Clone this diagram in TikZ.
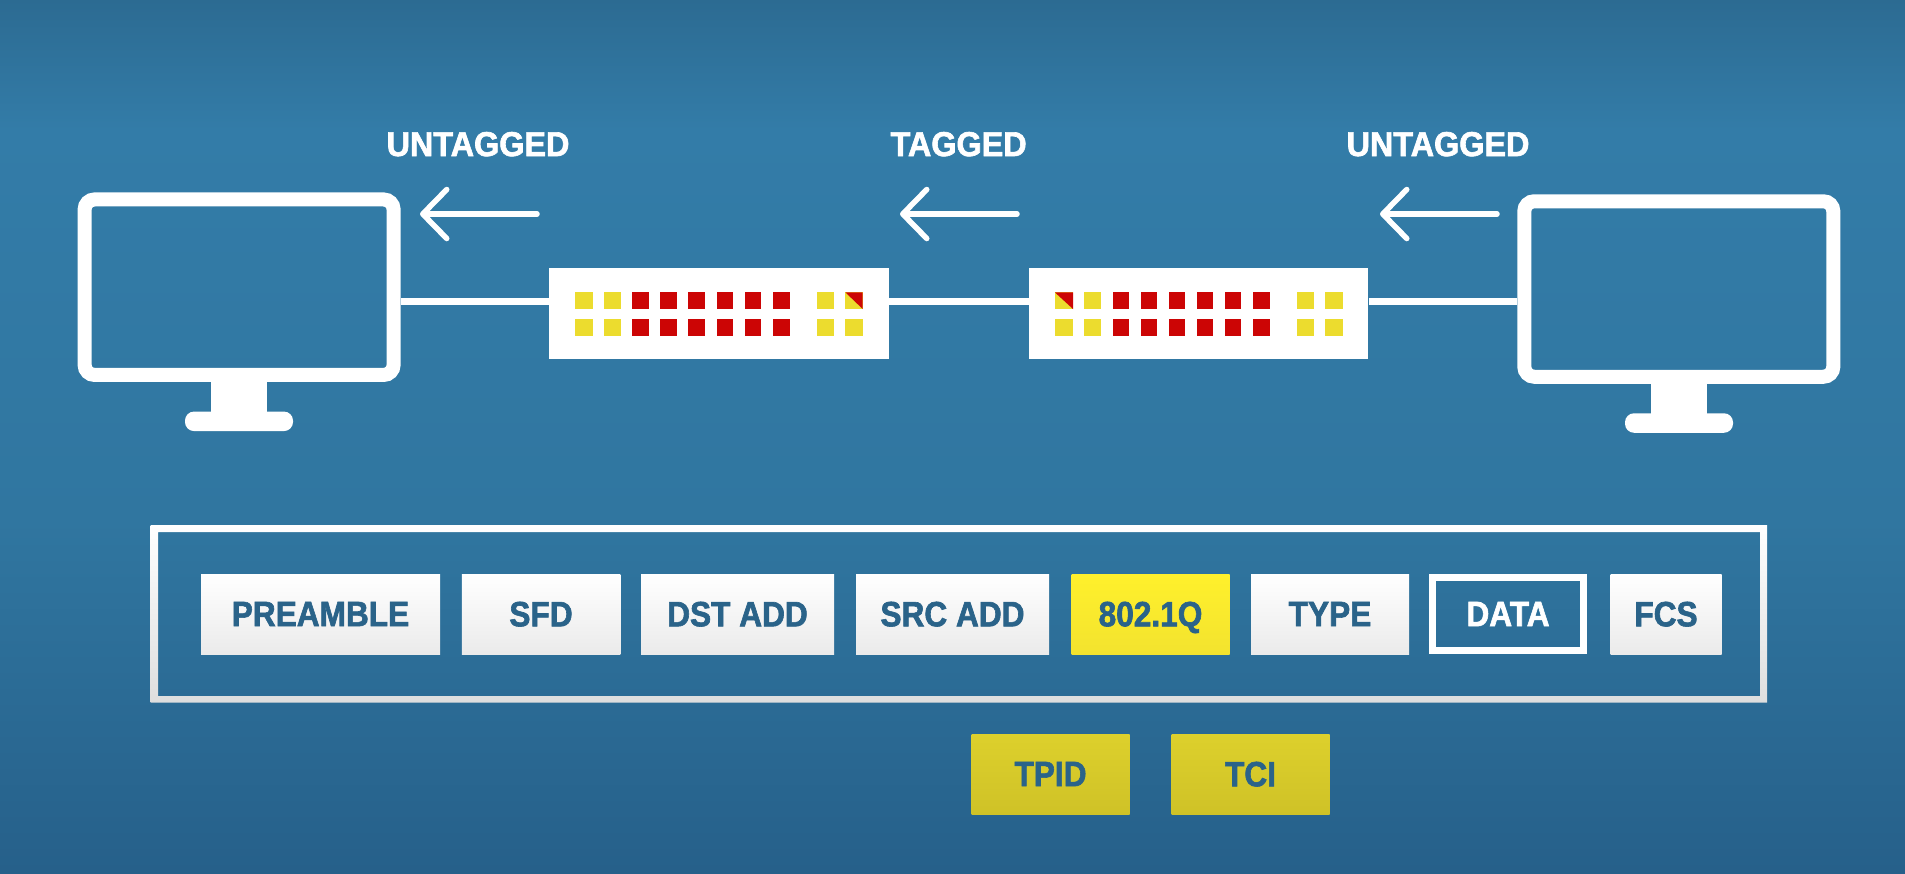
\documentclass[tikz,border=0pt]{standalone}
\usepackage{fontspec}
\setmainfont{Liberation Sans}[FakeStretch=0.94,BoldFeatures={FakeBold=1.8}]
\newfontfamily\fieldfont{Liberation Sans}[FakeStretch=0.9,BoldFeatures={FakeBold=1.8}]
\usepackage{tikz}
\usetikzlibrary{calc,arrows.meta,positioning}
\definecolor{bgTop}{HTML}{2C6B92}
\definecolor{bgMid}{HTML}{337CA8}
\definecolor{bgLow}{HTML}{3076A0}
\definecolor{bgBot}{HTML}{26608A}
\definecolor{inkBlue}{HTML}{2A6389}
\definecolor{portYellow}{HTML}{ECDC2E}
\definecolor{portRed}{HTML}{CC0505}
\definecolor{hotTop}{HTML}{FFF02C}
\definecolor{hotBot}{HTML}{F3E32E}
\definecolor{subTop}{HTML}{DDD02C}
\definecolor{subBot}{HTML}{CFC227}
\def\px{0.02cm}
\tikzset{
	screen/.style={draw=white,line width=14*\px,rounded corners=10*\px,inner sep=0pt,minimum width=309*\px,minimum height=175.5*\px},
	stand/.style={fill=white,inner sep=0pt,minimum width=56*\px,minimum height=32*\px},
	foot/.style={fill=white,inner sep=0pt,rounded corners=9*\px,minimum width=108*\px,minimum height=19.5*\px},
	switchbox/.style={fill=white,inner sep=0pt,minimum width=339.5*\px,minimum height=91*\px},
	wire/.style={draw=white,line width=6.5*\px},
	flow/.style={draw=white,line width=5.5*\px,line cap=round,-{Straight Barb[round,length=24*\px,width=49*\px]}},
	heading/.style={text=white,font=\bfseries\fontsize{19.6}{19.6}\selectfont,inner sep=0pt,text depth=0pt},
	field/.style={top color=white,bottom color=black!8,text=inkBlue,font=\fieldfont\bfseries\fontsize{20}{20}\selectfont,inner sep=0pt,text depth=0pt,minimum height=80*\px},
	hotfield/.style={field,top color=hotTop,bottom color=hotBot},
	subfield/.style={field,top color=subTop,bottom color=subBot},
	holefield/.style={text=white,draw=white,line width=7*\px,font=\fieldfont\bfseries\fontsize{20}{20}\selectfont,inner sep=0pt,text depth=0pt,minimum height=73*\px},
	port/.style={fill=#1}
}
\begin{document}
\begin{tikzpicture}[x=0.02cm,y=-0.02cm]
	\useasboundingbox (0,0) rectangle (1905,873);
	\shade[top color=bgTop,bottom color=bgMid] (0,0) rectangle (1905,130);
	\shade[top color=bgMid,bottom color=bgLow] (0,130) rectangle (1905,520);
	\shade[top color=bgLow,bottom color=bgBot] (0,520) rectangle (1905,873);

	\node[screen] (monL) at (239.1,287.2) {};
	\node[stand] (stemL) at (239,396.5) {};
	\node[foot] (footL) at (239,421.3) {};
	\node[screen] (monR) at (1678.8,289) {};
	\node[stand] (stemR) at (1679,398) {};
	\node[foot] (footR) at (1679,423) {};

	\node[switchbox] (swL) at (719,313.7) {};
	\node[switchbox] (swR) at (1198.7,313.7) {};

	\foreach \xa/\xb in {575.3/592.7,604.3/621,817/833.7}{
		\fill[port=portYellow] (\xa,292.3) rectangle (\xb,309);
		\fill[port=portYellow] (\xa,319) rectangle (\xb,335.5);
	}
	\foreach \xa/\xb in {632.3/649,660.3/677,688.3/705,716.7/733.3,744.7/761.3,773/790}{
		\fill[port=portRed] (\xa,292.3) rectangle (\xb,309);
		\fill[port=portRed] (\xa,319) rectangle (\xb,335.5);
	}
	\fill[port=portYellow] (845.3,292.3) rectangle (862.7,309);
	\fill[port=portRed] (845.3,292.3) -- (862.7,292.3) -- (862.7,309) -- cycle;
	\fill[port=portYellow] (845.3,319) rectangle (862.7,335.5);

	\foreach \xa/\xb in {1084/1101,1297/1314,1325/1343}{
		\fill[port=portYellow] (\xa,292.3) rectangle (\xb,309);
		\fill[port=portYellow] (\xa,319) rectangle (\xb,335.5);
	}
	\foreach \xa/\xb in {1112.6/1129,1140.6/1157,1168.6/1185,1196.6/1213,1224.7/1241,1252.7/1269.7}{
		\fill[port=portRed] (\xa,292.3) rectangle (\xb,309);
		\fill[port=portRed] (\xa,319) rectangle (\xb,335.5);
	}
	\fill[port=portYellow] (1054.8,292.3) rectangle (1073,309);
	\fill[port=portRed] (1054.8,292.3) -- (1073,292.3) -- (1073,309) -- cycle;
	\fill[port=portYellow] (1054.8,319) rectangle (1073,335.5);

	\coordinate (wireLevel) at (0,301.3);
	\draw[wire] (monL.east |- wireLevel) -- (swL.west |- wireLevel);
	\draw[wire] (swL.east |- wireLevel) -- (swR.west |- wireLevel);
	\draw[wire] (swR.east |- wireLevel) -- (monR.west |- wireLevel);

	\coordinate (tailL) at (537,214);
	\coordinate (tipL) at (420,214);
	\coordinate (tailM) at (1017,214);
	\coordinate (tipM) at (900,214);
	\coordinate (tailR) at (1497,214);
	\coordinate (tipR) at (1380,214);
	\draw[flow] (tailL) -- (tipL);
	\draw[flow] (tailM) -- (tipM);
	\draw[flow] (tailR) -- (tipR);

	\node[heading] (untaggedL) at (478,144) {UNTAGGED};
	\node[heading] (taggedM) at (958.6,144) {TAGGED};
	\node[heading] (untaggedR) at (1438,144) {UNTAGGED};

	\shade[top color=white,bottom color=black!13,even odd rule] (150.6,525) rectangle (1767,702.7) (158,532) rectangle (1760,696);

	\node[field,minimum width=239*\px] (preamble) at (320.5,614) {PREAMBLE};
	\node[field,minimum width=158.5*\px] (sfd) at (541,614) {SFD};
	\node[field,minimum width=193*\px] (dstadd) at (737.5,614) {DST ADD};
	\node[field,minimum width=193*\px] (srcadd) at (952.5,614) {SRC ADD};
	\node[hotfield,minimum width=158*\px] (dotq) at (1150.5,614) {802.1Q};
	\node[field,minimum width=158*\px] (type) at (1330,614) {TYPE};
	\node[holefield,minimum width=151*\px] (data) at (1508,614) {DATA};
	\node[field,minimum width=111*\px] (fcs) at (1666,614) {FCS};
	\node[subfield,minimum width=158*\px] (tpid) at (1050.5,774) {TPID};
	\node[subfield,minimum width=158*\px] (tci) at (1250.5,774) {TCI};
\end{tikzpicture}
\end{document}
